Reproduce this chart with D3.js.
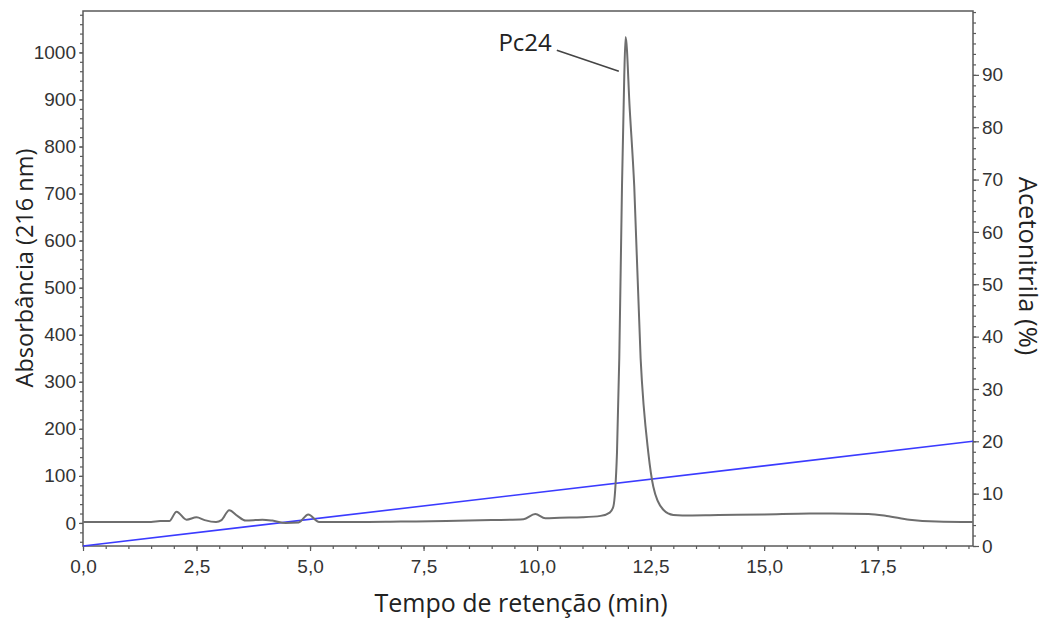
<!DOCTYPE html>
<html><head><meta charset="utf-8">
<script src="https://cdn.jsdelivr.net/npm/d3@7"></script>
<style>body{margin:0;background:#fff}</style>
</head><body><svg id="c" width="1046" height="619"></svg>
<script>
// Chromatogram (retention time in min, absorbance at 216 nm)
const time = [0.0, 1.5, 1.7, 1.9, 2.06, 2.28, 2.5, 2.68, 2.93, 3.05, 3.22, 3.4, 3.58, 3.8, 3.95, 4.17, 4.46, 4.75, 4.96, 5.2, 6.0, 7.0, 8.0, 9.0, 9.7, 9.96, 10.18, 10.5, 11.0, 11.4, 11.6, 11.68, 11.72, 11.76, 11.81, 11.87, 11.92, 11.95, 12.04, 12.14, 12.28, 12.45, 12.56, 12.78, 13.0, 13.2, 14.0, 15.0, 16.0, 16.5, 17.3, 17.7, 18.2, 18.8, 19.6];
const absorbance = [2, 2, 4, 4, 24, 7, 12, 6, 2, 6, 27, 15, 5, 6, 7, 5, 0, 1, 18, 2, 2, 3, 4, 6, 8, 19, 10, 11, 12, 15, 22, 35, 70, 150, 350, 715, 950, 1033, 880, 715, 350, 149, 77, 28, 17, 16, 17, 18, 20, 20, 19, 15, 7, 3, 2];
// Acetonitrile gradient (%)
const gradientTime = [0, 19.6];
const acetonitrile = [0, 20];
// Ticks
const xTicks = [0, 2.5, 5, 7.5, 10, 12.5, 15, 17.5];
const yLeftTicks = [0, 100, 200, 300, 400, 500, 600, 700, 800, 900, 1000];
const yRightTicks = [0, 10, 20, 30, 40, 50, 60, 70, 80, 90];
const peakName = ["Pc24"];
const peakPoint = [11.8, 960];

const L = 83, R = 973, T = 11, B = 546;
const svg = d3.select("#c");
const x = d3.scaleLinear().domain([0, 19.6]).range([L, R]);
const yL = d3.scaleLinear().domain([-49, 1088]).range([B, T]);
const yR = d3.scaleLinear().domain([0, 102.2]).range([B, T]);

const axisColor = "#5a5a5a";
const tickFont = "'Liberation Sans', Arial, sans-serif";
const titleFont = "'Open Sans', sans-serif";

// frame
svg.append("rect").attr("x", L).attr("y", T).attr("width", R - L).attr("height", B - T)
  .attr("fill", "none").attr("stroke", axisColor).attr("stroke-width", 1.5);

function styleAxis(g) {
  g.select(".domain").remove();
  g.selectAll("line").attr("stroke", axisColor).attr("stroke-width", 1.2);
  g.selectAll("text").attr("fill", "#333").style("font-family", tickFont).style("font-size", "19px");
}

// minor ticks
const minorX = d3.range(0, 19.6 + 1e-9, 0.5);
svg.append("g").attr("transform", `translate(0,${B})`)
  .call(d3.axisBottom(x).tickValues(minorX).tickSize(3).tickFormat(""))
  .call(styleAxis);
svg.append("g").attr("transform", `translate(0,${B})`)
  .call(d3.axisBottom(x).tickValues(xTicks).tickSize(5).tickPadding(9)
    .tickFormat(d => d3.format(".1f")(d).replace(".", ",")))
  .call(styleAxis);

const minorL = d3.range(-40, 1081, 20);
svg.append("g").attr("transform", `translate(${L},0)`)
  .call(d3.axisLeft(yL).tickValues(minorL).tickSize(3).tickFormat(""))
  .call(styleAxis);
svg.append("g").attr("transform", `translate(${L},0)`)
  .call(d3.axisLeft(yL).tickValues(yLeftTicks).tickSize(4).tickPadding(3).tickFormat(d3.format("d")))
  .call(styleAxis);

const minorR = d3.range(0, 102.1, 2);
svg.append("g").attr("transform", `translate(${R},0)`)
  .call(d3.axisRight(yR).tickValues(minorR).tickSize(3).tickFormat(""))
  .call(styleAxis);
svg.append("g").attr("transform", `translate(${R},0)`)
  .call(d3.axisRight(yR).tickValues(yRightTicks).tickSize(6).tickPadding(3).tickFormat(d3.format("d")))
  .call(styleAxis);

// gradient line
const gradData = gradientTime.map((t, i) => [t, acetonitrile[i]]);
svg.append("path").datum(gradData)
  .attr("d", d3.line().x(d => x(d[0])).y(d => yR(d[1])))
  .attr("fill", "none").attr("stroke", "#3b3bff").attr("stroke-width", 1.6);

// chromatogram
const chrom = time.map((t, i) => [t, absorbance[i]]);
svg.append("path").datum(chrom)
  .attr("d", d3.line().curve(d3.curveMonotoneX).x(d => x(d[0])).y(d => yL(d[1])))
  .attr("fill", "none").attr("stroke", "#6e6e6e").attr("stroke-width", 2)
  .attr("stroke-linejoin", "round");

// annotation
const px = x(peakPoint[0]), py = yL(peakPoint[1]);
svg.append("line").attr("x1", px - 62).attr("y1", py - 21).attr("x2", px).attr("y2", py)
  .attr("stroke", "#444").attr("stroke-width", 1.6);
svg.append("text").attr("x", px - 67).attr("y", py - 20).attr("text-anchor", "end")
  .style("font-family", titleFont).style("font-size", "24px").attr("fill", "#222")
  .text(peakName[0]);

// titles
svg.append("text").attr("transform", `translate(33,268) rotate(-90)`)
  .attr("text-anchor", "middle").style("font-family", titleFont).style("font-size", "23.5px")
  .attr("fill", "#222").text("Absorbância (216 nm)");
svg.append("text").attr("transform", `translate(1019,266) rotate(90)`)
  .attr("text-anchor", "middle").style("font-family", titleFont).style("font-size", "25.5px")
  .attr("fill", "#222").text("Acetonitrila (%)");
svg.append("text").attr("x", 521).attr("y", 612)
  .attr("text-anchor", "middle").style("font-family", titleFont).style("font-size", "25px")
  .attr("fill", "#222").text("Tempo de retenção (min)");
</script></body></html>
